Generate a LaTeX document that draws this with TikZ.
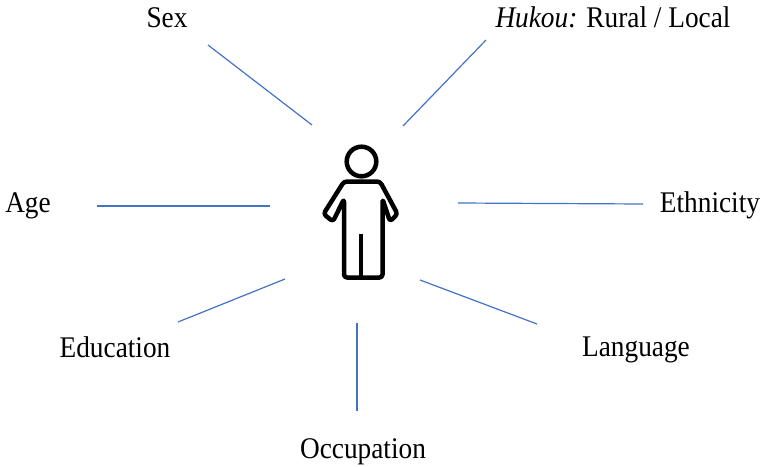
\documentclass[tikz,border=0pt]{standalone}
\usepackage{fontspec}
\setmainfont{Liberation Serif}[FakeStretch=0.91]
\usepackage{tikz}
\usetikzlibrary{calc}
\tikzset{spoke/.style={draw={rgb,255:red,68;green,114;blue,196},line width=1.2pt}}
\tikzset{factor/.style={font=\fontsize{30}{36}\selectfont,anchor=base,inner sep=0pt}}
\tikzset{icon/.style={line width=4.5pt,line join=round,rounded corners=3pt}}

\begin{document}
\begin{tikzpicture}[x=1pt,y=-1pt]
    		\useasboundingbox (0,0) rectangle (763,466);
    		% labels round the person
    		\node[factor] (sex) at (167,27) {Sex};
    		\node[factor] (hukou) at (613,27) {\textit{Hukou:} Rural / Local};
    		\node[factor] (age) at (28,212) {Age};
    		\node[factor] (ethnicity) at (710,212) {Ethnicity};
    		\node[factor] (education) at (115,357) {Education};
    		\node[factor] (language) at (636,356) {Language};
    		\node[factor] (occupation) at (363,458) {Occupation};
    		% spokes
    		\foreach \n/\ax/\ay/\bx/\by in {sex/208/45/312/125,hukou/486/40/403/126,age/97/206/270/206,ethnicity/458/203/643/204,education/178/322/285/279,language/420/280/537/324,occupation/357/323/357/411}
        	{
        		\coordinate (\n-a) at (\ax,\ay);
        		\coordinate (\n-b) at (\bx,\by);
        		\draw[spoke] (\n-a) -- (\n-b);
        	}
    		% person
    		\draw[icon] (361.5,161.5) circle (14.8);
    		\draw[icon] (362,181.5) -- (380,181.5) -- (397.5,214) -- (390,221.5) -- (382.5,199) -- (382.5,277.5)
    			-- (344,277.5) -- (344,199) -- (333,221.5) -- (323.5,214) -- (344,181.5) -- cycle;
    		\draw[line width=4.5pt] (361,234) -- (361,277.5);
		\end{tikzpicture}
\end{document}
